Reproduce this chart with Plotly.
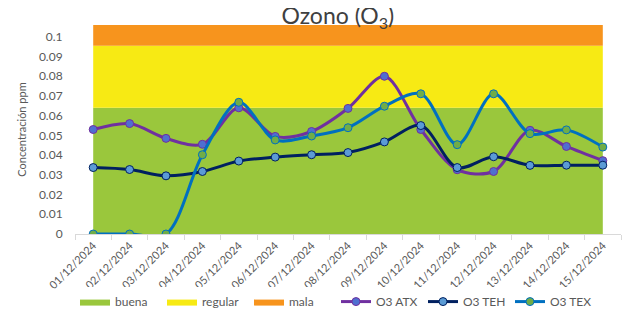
import plotly.graph_objects as go

fechas = ["01/12/2024", "02/12/2024", "03/12/2024", "04/12/2024", "05/12/2024",
          "06/12/2024", "07/12/2024", "08/12/2024", "09/12/2024", "10/12/2024",
          "11/12/2024", "12/12/2024", "13/12/2024", "14/12/2024", "15/12/2024"]

o3_atx = [0.053, 0.056, 0.0485, 0.0455, 0.064, 0.0495, 0.052, 0.0637, 0.080, 0.053,
          0.0326, 0.0317, 0.0526, 0.0444, 0.0372]
o3_teh = [0.0337, 0.0327, 0.0295, 0.0317, 0.037, 0.039, 0.0402, 0.0413, 0.0467, 0.055,
          0.0337, 0.0392, 0.0348, 0.0349, 0.0349]
o3_tex = [0.0, 0.0, 0.0, 0.0402, 0.0668, 0.0477, 0.0497, 0.0539, 0.0648, 0.0711,
          0.0453, 0.0711, 0.0509, 0.0528, 0.0441]

buena = [0.064] * 15
regular = [0.0315] * 15
mala = [0.0105] * 15

font = "Lato, Open Sans, sans-serif"

fig = go.Figure()

for name, vals, col in [("buena", buena, "#9AC73C"),
                        ("regular", regular, "#F7EA14"),
                        ("mala", mala, "#F7941D")]:
    fig.add_trace(go.Scatter(x=fechas, y=vals, name=name, mode="lines",
                             stackgroup="bandas", line=dict(width=0, color=col),
                             fillcolor=col, hoverinfo="skip"))

for name, vals, lc, mc in [("O3 ATX", o3_atx, "#7030A0", "#4F6FD0"),
                           ("O3 TEH", o3_teh, "#002060", "#5B9BD5"),
                           ("O3 TEX", o3_tex, "#0070C0", "#70AD47")]:
    fig.add_trace(go.Scatter(x=fechas, y=vals, name=name, mode="lines+markers",
                             line=dict(color=lc, width=3, shape="spline", smoothing=0.9),
                             marker=dict(size=8, color=mc, line=dict(color=lc, width=1))))

# the page body adds an 8px offset, so the figure is sized to the visible area
fig.update_layout(
    width=626, height=307,
    margin=dict(l=67, r=13, t=17, b=81, autoexpand=False),
    paper_bgcolor="white", plot_bgcolor="white",
    font=dict(family=font, size=11, color="#595959"),
    title=dict(text="Ozono (O<sub>3</sub>)", x=0.527, xanchor="center",
               y=0.975, yanchor="middle", font=dict(size=23, color="#404040")),
    showlegend=True,
    legend=dict(orientation="h", x=0.0, xanchor="left", y=-0.254, yanchor="top",
                font=dict(size=12, color="#595959"), traceorder="normal",
                entrywidth=42, entrywidthmode="pixels", tracegroupgap=0),
)

fig.update_xaxes(type="category", range=[-0.5, 14.5], tickson="boundaries",
                 ticks="outside", ticklen=5, tickcolor="#D9D9D9",
                 showline=True, linecolor="#D9D9D9", linewidth=1,
                 showgrid=False, tickangle=-45, automargin=False,
                 tickfont=dict(size=11, color="#595959"))
fig.update_yaxes(range=[0, 0.106], dtick=0.01, tick0=0, showgrid=False,
                 zeroline=False, showline=False, tickformat="~g", automargin=False,
                 ticks="outside", ticklen=9, tickcolor="rgba(0,0,0,0)",
                 title=dict(text="Concentración ppm", font=dict(size=11, color="#595959"),
                            standoff=10),
                 tickfont=dict(size=12, color="#595959"))

fig.write_html("out.html")
